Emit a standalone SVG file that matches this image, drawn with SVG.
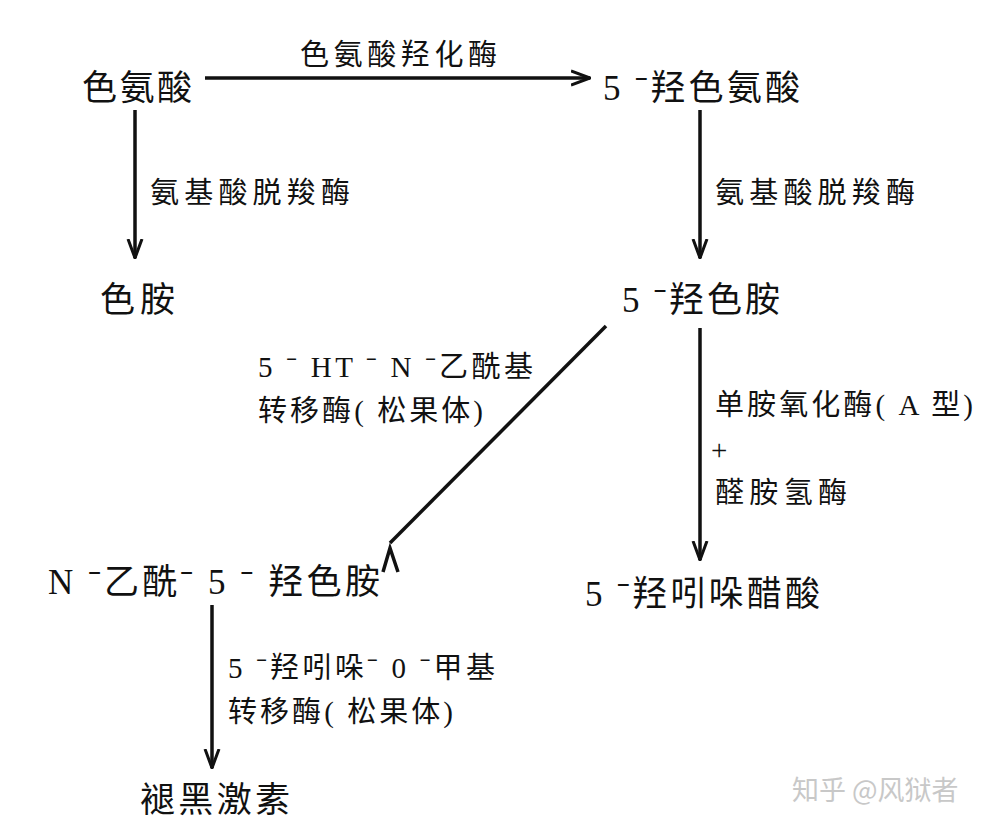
<svg xmlns="http://www.w3.org/2000/svg" width="1008" height="831" viewBox="0 0 1008 831">
<style>
text{font-family:"Liberation Serif","Noto Sans CJK SC",serif;fill:#111}
.n{font-size:35px}
.e{font-size:29px}
.w{font-size:27px;fill:#c8c8c8;font-family:"Noto Sans CJK SC",sans-serif}
line,polyline{stroke:#111;stroke-width:3.5;fill:none}
</style>
<defs>
<marker id="a" viewBox="0 0 20 20" refX="19" refY="10" markerWidth="20" markerHeight="20" markerUnits="userSpaceOnUse" orient="auto">
<polyline points="0,3 19,10 0,17" style="stroke:#111;stroke-width:3;fill:none"/>
</marker>
</defs>
<rect width="1008" height="831" fill="#fff"/>
<g id="connectors">
<line x1="205" y1="78" x2="590" y2="78" marker-end="url(#a)"/>
<line x1="135" y1="110" x2="135" y2="258" marker-end="url(#a)"/>
<line x1="700" y1="110" x2="700" y2="258" marker-end="url(#a)"/>
<line x1="606" y1="326" x2="390" y2="543"/>
<polyline points="383,572 390,548 398,572"/>
<line x1="700" y1="328" x2="700" y2="560" marker-end="url(#a)"/>
<line x1="212" y1="605" x2="212" y2="768" marker-end="url(#a)"/>
<text class="e" x="300" y="65" textLength="197" lengthAdjust="spacing">色氨酸羟化酶</text>
<text class="e" x="150" y="203" textLength="200" lengthAdjust="spacing">氨基酸脱羧酶</text>
<text class="e" x="715" y="203" textLength="200" lengthAdjust="spacing">氨基酸脱羧酶</text>
<text class="e" x="258" y="377" textLength="275" lengthAdjust="spacing">5 ˉ HT ˉ N ˉ乙酰基</text>
<text class="e" x="258" y="421" textLength="225" lengthAdjust="spacing">转移酶( 松果体)</text>
<text class="e" x="715" y="415" textLength="258" lengthAdjust="spacing">单胺氧化酶( A 型)</text>
<text class="e" x="711" y="460">+</text>
<text class="e" x="715" y="503" textLength="132" lengthAdjust="spacing">醛胺氢酶</text>
<text class="e" x="228" y="678" textLength="267" lengthAdjust="spacing">5 ˉ羟吲哚ˉ 0 ˉ甲基</text>
<text class="e" x="228" y="722" textLength="225" lengthAdjust="spacing">转移酶( 松果体)</text>
</g>
<g id="n1"><text class="n" x="82" y="100" textLength="110" lengthAdjust="spacing">色氨酸</text></g>
<g id="n2"><text class="n" x="603" y="100" textLength="197" lengthAdjust="spacing">5 ˉ羟色氨酸</text></g>
<g id="n3"><text class="n" x="100" y="312" textLength="75" lengthAdjust="spacing">色胺</text></g>
<g id="n4"><text class="n" x="622" y="312" textLength="158" lengthAdjust="spacing">5 ˉ羟色胺</text></g>
<g id="n5"><text class="n" x="48" y="594" textLength="332" lengthAdjust="spacing">N ˉ乙酰ˉ 5 ˉ 羟色胺</text></g>
<g id="n6"><text class="n" x="585" y="606" textLength="235" lengthAdjust="spacing">5 ˉ羟吲哚醋酸</text></g>
<g id="n7"><text class="n" x="140" y="812" textLength="150" lengthAdjust="spacing">褪黑激素</text></g>
<text class="w" x="792" y="800">知乎 @风狱者</text>
</svg>
